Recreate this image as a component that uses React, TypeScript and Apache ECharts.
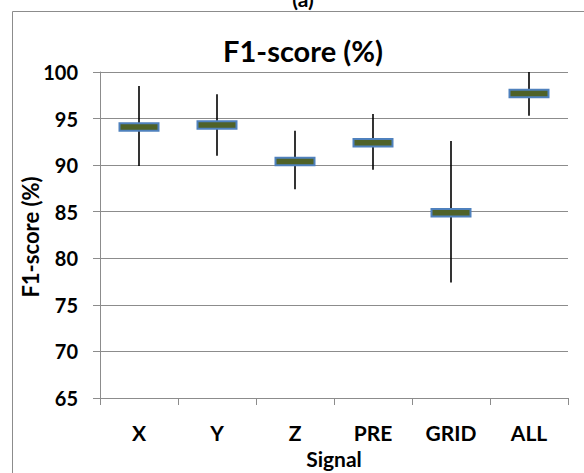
import React, { useEffect, useRef } from "react";
import * as echarts from "echarts";

const categories = ["X", "Y", "Z", "PRE", "GRID", "ALL"];
const means = [94.1, 94.3, 90.4, 92.4, 84.9, 97.7];
const lows = [89.9, 91.0, 87.4, 89.5, 77.4, 95.3];
const highs = [98.5, 97.6, 93.7, 95.5, 92.6, 100];
const yMin = 65;
const yMax = 100;
const yStep = 5;

const FONT = "Lato";
const GREY = "#8c8c8c";

export default function App() {
  const ref = useRef<HTMLDivElement>(null);
  useEffect(() => {
    if (!ref.current) return;
    const chart = echarts.init(ref.current, undefined, { renderer: "svg" });
    const data = categories.map((c, i) => [i, means[i], lows[i], highs[i]]);
    chart.setOption({
      animation: false,
      backgroundColor: "#ffffff",
      grid: { left: 100, right: 16, top: 72, bottom: 75 },
      xAxis: {
        type: "category",
        data: categories,
        axisLine: { show: true, lineStyle: { color: GREY, width: 1 } },
        axisTick: { show: true, length: 7, lineStyle: { color: GREY } },
        axisLabel: {
          margin: 24,
          color: "#000",
          fontFamily: FONT,
          fontWeight: "bold",
          fontSize: 21,
        },
      },
      yAxis: {
        type: "value",
        min: yMin,
        max: yMax,
        interval: yStep,
        axisLine: { show: true, lineStyle: { color: GREY, width: 1 } },
        axisTick: { show: true, length: 7, lineStyle: { color: GREY } },
        splitLine: { show: true, lineStyle: { color: GREY, width: 1 } },
        axisLabel: {
          margin: 22,
          color: "#000",
          fontFamily: FONT,
          fontWeight: "bold",
          fontSize: 20,
        },
      },
      graphic: [
        {
          type: "rect",
          shape: { x: 12.5, y: 11.5, width: 600, height: 500 },
          style: { fill: "none", stroke: GREY, lineWidth: 1 },
          silent: true,
          z: 0,
        },
        {
          type: "text",
          x: 303,
          y: 9,
          style: {
            text: "(a)",
            align: "center",
            verticalAlign: "bottom",
            fill: "#000",
            font: `bold 21px ${FONT}`,
          },
        },
        {
          type: "text",
          x: 303,
          y: 50,
          style: {
            text: "F1-score (%)",
            align: "center",
            verticalAlign: "middle",
            fill: "#000",
            font: `bold 29px ${FONT}`,
          },
        },
        {
          type: "text",
          x: 30,
          y: 237,
          rotation: Math.PI / 2,
          style: {
            text: "F1-score (%)",
            align: "center",
            verticalAlign: "middle",
            fill: "#000",
            font: `bold 22px ${FONT}`,
          },
        },
        {
          type: "text",
          x: 334,
          y: 458,
          style: {
            text: "Signal",
            align: "center",
            verticalAlign: "middle",
            fill: "#000",
            font: `bold 21px ${FONT}`,
          },
        },
      ],
      series: [
        {
          type: "custom",
          data,
          encode: { x: 0, y: [1, 2, 3] },
          renderItem: (params: any, api: any) => {
            const idx = api.value(0);
            const c = api.coord([idx, api.value(1)]);
            const lo = api.coord([idx, api.value(2)]);
            const hi = api.coord([idx, api.value(3)]);
            const x = Math.round(c[0]);
            return {
              type: "group",
              children: [
                {
                  type: "line",
                  shape: { x1: x, y1: hi[1], x2: x, y2: lo[1] },
                  style: { stroke: "#000", lineWidth: 1.6 },
                },
                {
                  type: "rect",
                  shape: { x: x - 19.5, y: c[1] - 3.75, width: 39, height: 7.5 },
                  style: { fill: "#4F6228", stroke: "#4F81BD", lineWidth: 2 },
                },
              ],
            };
          },
        },
      ],
    });
    return () => chart.dispose();
  }, []);
  return (
    <div
      ref={ref}
      style={{ position: "fixed", left: 0, top: 0, width: 584, height: 473 }}
    />
  );
}
